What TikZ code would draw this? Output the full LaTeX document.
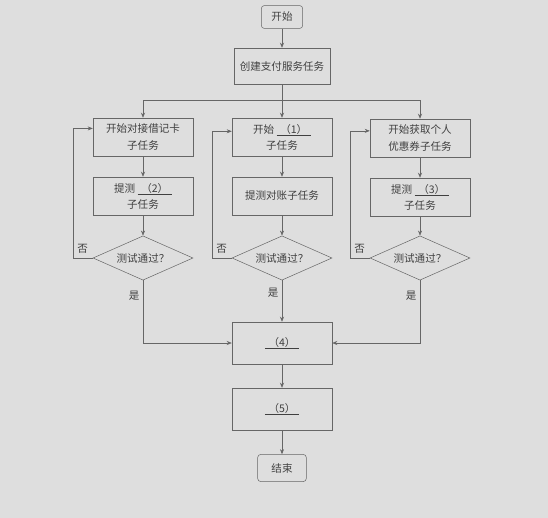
\documentclass[tikz,border=0pt]{standalone}
\usepackage{fontspec}
\setmainfont{Noto Sans CJK SC}
\usetikzlibrary{shapes.geometric,arrows.meta}

\newcommand{\blank}[1]{\underline{\makebox[1.2cm]{#1}}}

\tikzset{
  box/.style={draw=black!60, semithin, minimum width=3.5cm, minimum height=1.33cm,
              align=center, text=black!75, font=\fontsize{10.5}{16}\selectfont},
  semithin/.style={line width=0.5pt},
  term/.style={box, rounded corners=3pt, minimum width=1.45cm, minimum height=0.8cm},
  test/.style={box, diamond, aspect=2.2, inner sep=0pt, minimum width=3.5cm, minimum height=1.55cm},
  line/.style={draw=black!60, semithin},
  arr/.style={line, -{Stealth[length=5pt,width=4pt]}},
  lbl/.style={text=black!75, font=\fontsize{10.5}{12}\selectfont},
}

\begin{document}
\begin{tikzpicture}[x=0.035cm, y=-0.035cm]
\useasboundingbox (0,0) rectangle (548,518);
\fill[black!13] (0,0) rectangle (548,518);

\node[term] (start) at (282,17) {开始};
\node[box, minimum width=3.35cm, minimum height=1.26cm] (create) at (282,66) {创建支付服务任务};

% three sub tasks
\node[box] (a1) at (143,137) {开始对接借记卡\\子任务};
\node[box] (a2) at (143,196) {提测 \blank{（2）}\\子任务};
\node[test] (a3) at (143,258) {测试通过？};

\node[box] (b1) at (282,137) {开始 \blank{（1）}\\子任务};
\node[box] (b2) at (282,196) {提测对账子任务};
\node[test] (b3) at (282,258) {测试通过？};

\node[box] (c1) at (420,138) {开始获取个人\\优惠券子任务};
\node[box] (c2) at (420,197) {提测 \blank{（3）}\\子任务};
\node[test] (c3) at (420,258) {测试通过？};

\node[box, minimum height=1.47cm] (m4) at (282,343) {\blank{（4）}};
\node[box, minimum height=1.47cm] (m5) at (282,409) {\blank{（5）}};
\node[term, minimum width=1.7cm, minimum height=0.95cm] (stop) at (282,468) {结束};

\draw[arr] (start) -- (create);
\draw[line] (create.south) -- ++(0,16) coordinate (bus);
\draw[arr] (bus) -| (a1.north);
\draw[arr] (bus) -- (b1.north);
\draw[arr] (bus) -| (c1.north);

\draw[arr] (a1) -- (a2);
\draw[arr] (a2) -- (a3);
\draw[arr] (b1) -- (b2);
\draw[arr] (b2) -- (b3);
\draw[arr] (c1) -- (c2);
\draw[arr] (c2) -- (c3);

% retry loops
\draw[arr] (a3.west) -- node[lbl, above=1pt] {否} ++(-20,0) |- ([yshift=0.3cm]a1.west);
\draw[arr] (b3.west) -- node[lbl, above=1pt] {否} ++(-20,0) |- ([yshift=0.2cm]b1.west);
\draw[arr] (c3.west) -- node[lbl, above=1pt] {否} ++(-20,0) |- ([yshift=0.25cm]c1.west);

\draw[arr] (a3.south) |- node[lbl, pos=0.12, left] {是} (m4.west);
\draw[arr] (b3.south) -- node[lbl, pos=0.3, left] {是} (m4.north);
\draw[arr] (c3.south) |- node[lbl, pos=0.12, left] {是} (m4.east);

\draw[arr] (m4) -- (m5);
\draw[arr] (m5) -- (stop);
\end{tikzpicture}
\end{document}
